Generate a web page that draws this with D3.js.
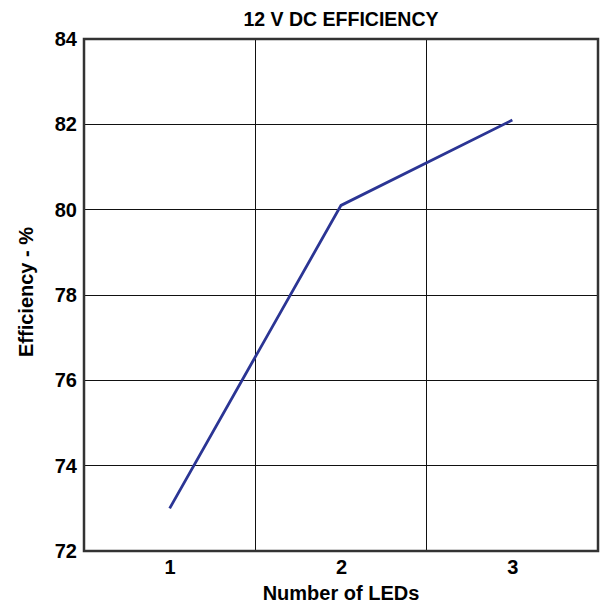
<!DOCTYPE html>
<html><head><meta charset="utf-8">
<script src="https://cdn.jsdelivr.net/npm/d3@7"></script>
<style>
html,body{margin:0;padding:0;background:#fff;}
text{font-family:"Liberation Sans",Arial,sans-serif;font-weight:bold;fill:#000;}
</style></head>
<body>
<svg id="chart" width="600" height="605"></svg>
<script>
const leds = [1, 2, 3];
const efficiency = [73.0, 80.1, 82.1];
const yTicks = [72, 74, 76, 78, 80, 82, 84];
const xTicks = [1, 2, 3];
const xGrid = [1.5, 2.5];
const title = "12 V DC EFFICIENCY";
const xTitle = "Number of LEDs";
const yTitle = "Efficiency - %";

const margin = {left: 84, right: 2, top: 39, bottom: 54};
const W = 600, H = 605;
const svg = d3.select("#chart");
const x = d3.scaleLinear().domain([0.5, 3.5]).range([margin.left, W - margin.right]);
const y = d3.scaleLinear().domain([72, 84]).range([H - margin.bottom, margin.top]);

// grid
svg.append("g").selectAll("line.h").data(yTicks.slice(1, -1)).join("line")
  .attr("x1", x(0.5)).attr("x2", x(3.5))
  .attr("y1", d => y(d)).attr("y2", d => y(d))
  .attr("stroke", "#111").attr("stroke-width", 1).attr("shape-rendering", "crispEdges");
svg.append("g").selectAll("line.v").data(xGrid).join("line")
  .attr("x1", d => x(d)).attr("x2", d => x(d))
  .attr("y1", y(72)).attr("y2", y(84))
  .attr("stroke", "#111").attr("stroke-width", 1).attr("shape-rendering", "crispEdges");

// frame
svg.append("rect")
  .attr("x", x(0.5)).attr("y", y(84))
  .attr("width", x(3.5) - x(0.5)).attr("height", y(72) - y(84))
  .attr("fill", "none").attr("stroke", "#333").attr("stroke-width", 2.5);

// axes
const yAxis = d3.axisLeft(y).tickValues(yTicks).tickSize(0).tickPadding(7);
const gy = svg.append("g").attr("transform", `translate(${x(0.5)},0)`).call(yAxis);
gy.select(".domain").remove();
gy.selectAll("text").style("font-size", "20px").attr("fill", "#000");

const xAxis = d3.axisBottom(x).tickValues(xTicks).tickFormat(d3.format("d")).tickSize(0).tickPadding(9);
const gx = svg.append("g").attr("transform", `translate(0,${y(72)})`).call(xAxis);
gx.select(".domain").remove();
gx.selectAll("text").style("font-size", "20px").attr("fill", "#000");

// line
const line = d3.line().x((d, i) => x(leds[i])).y(d => y(d));
svg.append("path").datum(efficiency)
  .attr("d", line).attr("fill", "none")
  .attr("stroke", "#2b3594").attr("stroke-width", 2.8).attr("stroke-linejoin", "miter");

// titles
svg.append("text").attr("x", (x(0.5) + x(3.5)) / 2).attr("y", 26)
  .attr("text-anchor", "middle").style("font-size", "19.5px").text(title);
svg.append("text").attr("x", (x(0.5) + x(3.5)) / 2).attr("y", 600)
  .attr("text-anchor", "middle").style("font-size", "20px").text(xTitle);
svg.append("text").attr("transform", `translate(33,${(y(72) + y(84)) / 2 - 3}) rotate(-90)`)
  .attr("text-anchor", "middle").style("font-size", "20px").text(yTitle);
</script>
</body></html>
